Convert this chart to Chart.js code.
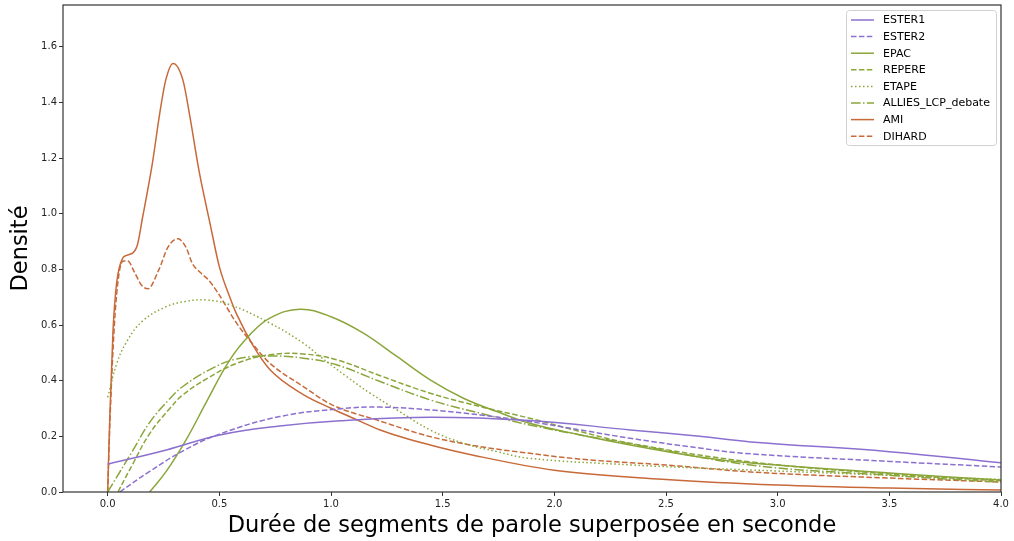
<!DOCTYPE html>
<html>
<head>
<meta charset="utf-8">
<script src="https://cdn.jsdelivr.net/npm/chart.js@4.4.1/dist/chart.umd.min.js"></script>
<style>
    html, body { margin: 0; padding: 0; background: #fff; }
    #wrap { width: 1014px; height: 541px; }
</style>
</head>
<body>
<div id="wrap"><canvas id="densityChart"></canvas></div>
<script>
// Tick positions
const xTicks = [0.0, 0.5, 1.0, 1.5, 2.0, 2.5, 3.0, 3.5, 4.0];
const yTicks = [0.0, 0.2, 0.4, 0.6, 0.8, 1.0, 1.2, 1.4, 1.6];

// Series names
const seriesNames = ['ESTER1', 'ESTER2', 'EPAC', 'REPERE', 'ETAPE', 'ALLIES_LCP_debate', 'AMI', 'DIHARD'];

// Values (x = duration in s, y = density)
const ester1X = [0, 0.263, 0.502, 0.77, 1.04, 1.444, 1.89, 2.34, 2.65, 2.88, 3.5, 4.0];
const ester1Y = [0.10, 0.151, 0.205, 0.237, 0.256, 0.269, 0.257, 0.223, 0.20, 0.18, 0.145, 0.105];

const ester2X = [0.054, 0.19, 0.338, 0.50, 0.77, 1.04, 1.22, 1.444, 1.668, 1.89, 2.117, 2.34, 2.65, 2.88, 3.5, 4.0];
const ester2Y = [0, 0.075, 0.148, 0.208, 0.271, 0.299, 0.305, 0.295, 0.277, 0.253, 0.223, 0.193, 0.158, 0.137, 0.11, 0.09];

const epacX = [0.188, 0.263, 0.353, 0.443, 0.547, 0.637, 0.726, 0.861, 1.0, 1.145, 1.295, 1.444, 1.593, 1.743, 1.89, 2.117, 2.34, 2.65, 2.88, 3.5, 4.0];
const epacY = [0, 0.075, 0.19, 0.325, 0.475, 0.565, 0.625, 0.657, 0.63, 0.571, 0.487, 0.403, 0.337, 0.289, 0.247, 0.205, 0.169, 0.126, 0.104, 0.068, 0.043];

const repereX = [0.046, 0.114, 0.188, 0.278, 0.338, 0.45, 0.577, 0.726, 0.876, 1.025, 1.22, 1.444, 1.668, 1.89, 2.117, 2.34, 2.88, 3.5, 4.0];
const repereY = [0, 0.103, 0.21, 0.30, 0.35, 0.41, 0.462, 0.493, 0.496, 0.475, 0.418, 0.355, 0.307, 0.265, 0.217, 0.175, 0.108, 0.065, 0.04];

const etapeX = [0, 0.04, 0.085, 0.157, 0.26, 0.35, 0.44, 0.547, 0.726, 0.876, 0.951, 1.07, 1.175, 1.295, 1.444, 1.593, 1.743, 1.89, 2.35, 2.65, 2.88, 3.5, 4.0];
const etapeY = [0.34, 0.46, 0.54, 0.615, 0.665, 0.685, 0.69, 0.673, 0.607, 0.535, 0.487, 0.415, 0.355, 0.295, 0.223, 0.175, 0.145, 0.121, 0.097, 0.086, 0.079, 0.06, 0.045];

const alliesX = [0, 0.114, 0.188, 0.278, 0.338, 0.457, 0.577, 0.726, 0.876, 1.025, 1.22, 1.444, 1.668, 1.89, 2.117, 2.34, 2.88, 3.5, 4.0];
const alliesY = [0, 0.151, 0.25, 0.335, 0.38, 0.44, 0.478, 0.489, 0.481, 0.457, 0.397, 0.331, 0.283, 0.241, 0.205, 0.173, 0.097, 0.06, 0.035];

const amiX = [0, 0.01, 0.024, 0.04, 0.067, 0.085, 0.13, 0.157, 0.20, 0.233, 0.26, 0.293, 0.337, 0.368, 0.41, 0.457, 0.5, 0.547, 0.577, 0.652, 0.726, 0.876, 1.0, 1.1, 1.22, 1.444, 1.668, 2.0, 2.5, 3.0, 3.5, 4.0];
const amiY = [0, 0.28, 0.58, 0.75, 0.84, 0.85, 0.88, 0.99, 1.18, 1.36, 1.48, 1.54, 1.48, 1.35, 1.15, 0.97, 0.81, 0.70, 0.64, 0.525, 0.44, 0.35, 0.301, 0.265, 0.223, 0.169, 0.127, 0.078, 0.045, 0.025, 0.014, 0.007];

const dihardX = [0, 0.01, 0.03, 0.05, 0.07, 0.09, 0.12, 0.15, 0.18, 0.23, 0.27, 0.315, 0.35, 0.38, 0.42, 0.45, 0.49, 0.577, 0.652, 0.726, 0.876, 1.0, 1.22, 1.444, 1.668, 1.89, 2.117, 2.5, 2.88, 3.5, 4.0];
const dihardY = [0, 0.25, 0.6, 0.78, 0.83, 0.83, 0.79, 0.745, 0.73, 0.80, 0.88, 0.91, 0.88, 0.82, 0.785, 0.763, 0.72, 0.607, 0.529, 0.463, 0.379, 0.315, 0.255, 0.199, 0.163, 0.139, 0.118, 0.097, 0.072, 0.05, 0.036];

// Styles
const PURPLE = '#8c70d0';
const GREEN = '#8aa63a';
const ORANGE = '#c8693a';
const DASH = [5.5, 2.4];
const DOT = [1.5, 2.5];
const DASHDOT = [9.6, 2.4, 1.5, 2.4];

const toPoints = (xs, ys) => xs.map((x, i) => ({ x: x, y: ys[i] }));

const makeSet = (label, xs, ys, color, dash, mode) => ({
    label: label,
    data: toPoints(xs, ys),
    borderColor: color,
    backgroundColor: color,
    borderWidth: 1.5,
    borderDash: dash,
    showLine: true,
    pointRadius: 0,
    pointHoverRadius: 0,
    fill: false,
    cubicInterpolationMode: mode || 'default',
    tension: 0.4
});

const datasets = [
    makeSet(seriesNames[0], ester1X, ester1Y, PURPLE, []),
    makeSet(seriesNames[1], ester2X, ester2Y, PURPLE, DASH),
    makeSet(seriesNames[2], epacX, epacY, GREEN, []),
    makeSet(seriesNames[3], repereX, repereY, GREEN, DASH),
    makeSet(seriesNames[4], etapeX, etapeY, GREEN, DOT),
    makeSet(seriesNames[5], alliesX, alliesY, GREEN, DASHDOT),
    makeSet(seriesNames[6], amiX, amiY, ORANGE, [], 'monotone'),
    makeSet(seriesNames[7], dihardX, dihardY, ORANGE, DASH, 'monotone')
];

// Frame around the plot + matplotlib-like legend in the upper right
const framePlugin = {
    id: 'frameAndLegend',
    afterDatasetsDraw(chart) {
        const ctx = chart.ctx;
        const a = chart.chartArea;
        ctx.save();

        // legend box
        const boxW = 150, rowH = 16.6;
        const boxH = 135;
        const bx = a.right - 5 - boxW;
        const by = a.top + 5;
        ctx.beginPath();
        ctx.roundRect(bx + 0.5, by + 0.5, boxW, boxH, 3);
        ctx.fillStyle = 'rgba(255,255,255,0.8)';
        ctx.fill();
        ctx.strokeStyle = '#d0d0d0';
        ctx.lineWidth = 1;
        ctx.stroke();

        ctx.font = '11px "DejaVu Sans", sans-serif';
        ctx.textBaseline = 'middle';
        ctx.textAlign = 'left';
        chart.data.datasets.forEach((ds, i) => {
            const y = by + 10 + i * rowH;
            ctx.beginPath();
            ctx.setLineDash(ds.borderDash || []);
            ctx.strokeStyle = ds.borderColor;
            ctx.lineWidth = 1.5;
            ctx.moveTo(bx + 5, y);
            ctx.lineTo(bx + 28, y);
            ctx.stroke();
            ctx.setLineDash([]);
            ctx.fillStyle = '#000';
            ctx.fillText(ds.label, bx + 37, y + 0.5);
        });

        // axes frame
        ctx.strokeStyle = '#333';
        ctx.lineWidth = 1.2;
        ctx.strokeRect(a.left, a.top, a.right - a.left, a.bottom - a.top);
        ctx.restore();
    }
};

const ctx = document.getElementById('densityChart').getContext('2d');
new Chart(ctx, {
    type: 'scatter',
    data: { datasets: datasets },
    options: {
        responsive: true,
        maintainAspectRatio: false,
        animation: false,
        layout: { padding: { left: 0, right: 13, top: 5, bottom: 0 } },
        plugins: {
            legend: { display: false },
            tooltip: { enabled: false }
        },
        scales: {
            x: {
                type: 'linear',
                min: -0.2,
                max: 4.0,
                afterBuildTicks: (scale) => { scale.ticks = xTicks.map(v => ({ value: v })); },
                afterFit: (scale) => { scale.height = 49; },
                grid: { drawOnChartArea: false, drawTicks: true, tickLength: 4, tickColor: '#333', color: '#333' },
                border: { display: false },
                ticks: {
                    color: '#222',
                    font: { family: '"DejaVu Sans", sans-serif', size: 10 },
                    padding: 2,
                    maxRotation: 0,
                    callback: (v) => Number(v).toFixed(1)
                },
                title: {
                    display: true,
                    text: 'Durée de segments de parole superposée en seconde',
                    color: '#000',
                    font: { family: '"DejaVu Sans", sans-serif', size: 22.5 },
                    padding: { top: 0, bottom: 1 }
                }
            },
            y: {
                type: 'linear',
                min: 0,
                max: 1.75,
                afterBuildTicks: (scale) => { scale.ticks = yTicks.map(v => ({ value: v })); },
                afterFit: (scale) => {
                    scale.width = 63;
                    scale.paddingTop = 0;
                    scale.paddingBottom = 0;
                },
                grid: { drawOnChartArea: false, drawTicks: true, tickLength: 4, tickColor: '#333', color: '#333' },
                border: { display: false },
                ticks: {
                    color: '#222',
                    font: { family: '"DejaVu Sans", sans-serif', size: 10 },
                    padding: 2,
                    callback: (v) => Number(v).toFixed(1)
                },
                title: {
                    display: true,
                    text: 'Densité',
                    color: '#000',
                    font: { family: '"DejaVu Sans", sans-serif', size: 22.5 },
                    padding: { top: 8, bottom: 0 }
                }
            }
        }
    },
    plugins: [framePlugin]
});
</script>
</body>
</html>
